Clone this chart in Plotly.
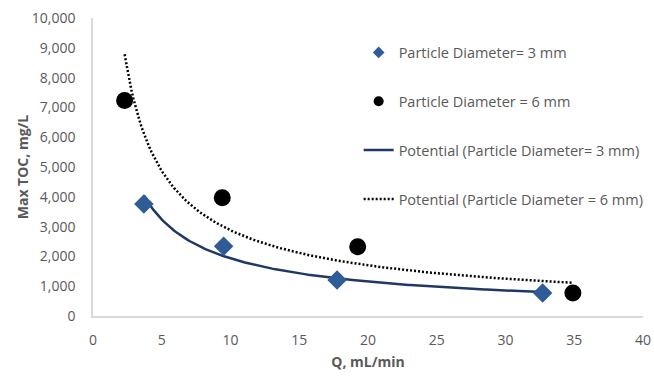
import numpy as np
import plotly.graph_objects as go

# Data
q_3mm = [3.7, 9.5, 17.75, 32.7]
toc_3mm = [3760, 2340, 1210, 775]
q_6mm = [2.3, 9.4, 19.25, 34.9]
toc_6mm = [7230, 3970, 2320, 775]

name_3 = "Particle Diameter= 3 mm"
name_6 = "Particle Diameter = 6 mm"
name_t3 = "Potential (Particle Diameter= 3 mm)"
name_t6 = "Potential (Particle Diameter = 6 mm)"


def power_fit(x, y):
    x = np.asarray(x, float)
    y = np.asarray(y, float)
    b, lna = np.polyfit(np.log(x), np.log(y), 1)
    xs = np.linspace(x.min(), x.max(), 200)
    return xs, np.exp(lna) * xs ** b


tx3, ty3 = power_fit(q_3mm, toc_3mm)
tx6, ty6 = power_fit(q_6mm, toc_6mm)

grey = "#595959"
navy = "#1F3864"
blue = "#2F5B96"
dotdash = "2px,2px"

fig = go.Figure()
# plotted marks
fig.add_trace(go.Scatter(x=tx6, y=ty6, mode="lines", showlegend=False,
                         line=dict(color="#000000", width=2.5, dash=dotdash)))
fig.add_trace(go.Scatter(x=tx3, y=ty3, mode="lines", showlegend=False,
                         line=dict(color=navy, width=2.5)))
fig.add_trace(go.Scatter(x=q_3mm, y=toc_3mm, mode="markers", showlegend=False,
                         marker=dict(symbol="diamond", size=15, color=blue)))
fig.add_trace(go.Scatter(x=q_6mm, y=toc_6mm, mode="markers", showlegend=False,
                         marker=dict(symbol="circle", size=17, color="#000000")))
# legend entries (smaller symbols as in the reference legend)
fig.add_trace(go.Scatter(x=[None], y=[None], mode="markers", name=name_3, legendgroup="a",
                         marker=dict(symbol="diamond", size=9, color=blue)))
fig.add_trace(go.Scatter(x=[None], y=[None], mode="markers", name=name_6, legendgroup="b",
                         marker=dict(symbol="circle", size=10, color="#000000")))
fig.add_trace(go.Scatter(x=[None], y=[None], mode="lines", name=name_t3, legendgroup="c",
                         line=dict(color=navy, width=2.5)))
fig.add_trace(go.Scatter(x=[None], y=[None], mode="lines", name=name_t6, legendgroup="d",
                         line=dict(color="#000000", width=2.5, dash=dotdash)))

fig.update_layout(
    width=654, height=376,
    margin=dict(l=92.5, r=11, t=18.3, b=60.3, autoexpand=False),
    paper_bgcolor="white", plot_bgcolor="white",
    font=dict(family="Open Sans, Liberation Sans, sans-serif", color=grey, size=14),
    legend=dict(x=0.483, y=0.938, xanchor="left", yanchor="top",
                traceorder="grouped", tracegroupgap=27,
                font=dict(size=14.5, color=grey), bgcolor="rgba(0,0,0,0)"),
    xaxis=dict(range=[0, 40], dtick=5, tick0=0, showgrid=False, zeroline=False,
               showline=True, linecolor="#D9D9D9", linewidth=1.5, ticks="",
               automargin=False, ticklabelstandoff=10,
               title=dict(text="<b>Q, mL/min</b>", font=dict(size=14, color=grey), standoff=10),
               tickfont=dict(size=14, color=grey)),
    yaxis=dict(range=[0, 10000], dtick=1000, tick0=0, showgrid=False, zeroline=False,
               showline=True, linecolor="#D9D9D9", linewidth=1.5, ticks="",
               tickformat=",d", automargin=False, ticklabelstandoff=13,
               title=dict(text="<b>Max TOC, mg/L</b>", font=dict(size=14, color=grey), standoff=0),
               tickfont=dict(size=14, color=grey)),
)

fig.write_html("out.html", config={"displayModeBar": False},
               post_script="document.body.style.margin='0';")
